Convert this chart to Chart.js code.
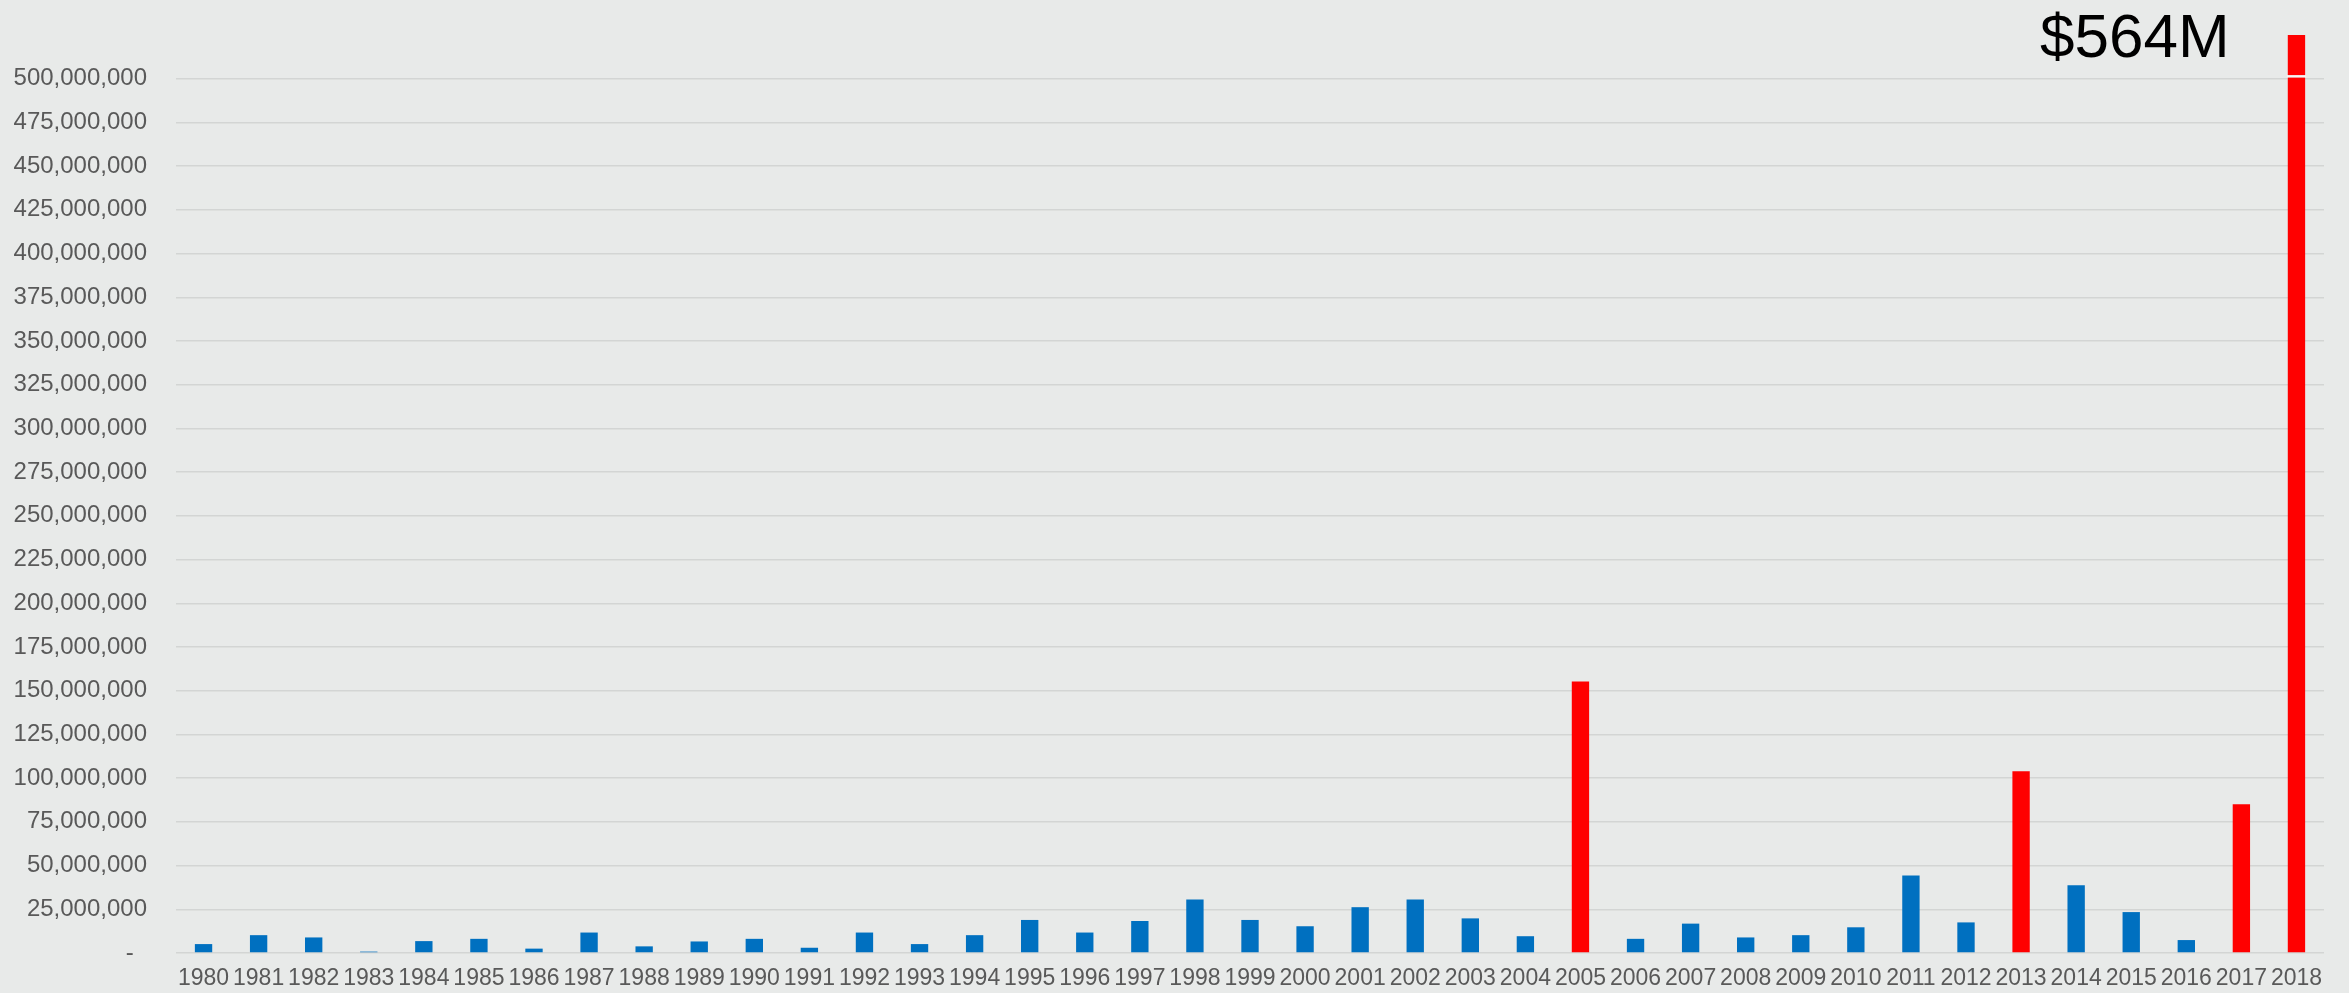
<!DOCTYPE html>
<html>
<head>
<meta charset="utf-8">
<script src="https://cdn.jsdelivr.net/npm/chart.js@4"></script>
<style>
  html, body { margin: 0; padding: 0; }
  body { width: 2349px; height: 993px; background: #e8eae9; position: relative; overflow: hidden; }
  #wrap { position: absolute; left: 0; top: 0; width: 2349px; height: 993px; }
  #callout {
    position: absolute; left: 2040px; top: 5px;
    font-family: "Liberation Sans", Arial, sans-serif; font-size: 62px; line-height: 62px;
    color: #000;
  }
</style>
</head>
<body>
<div id="wrap"><canvas id="chart"></canvas></div>
<div id="callout">$564M</div>
<script>
// Yearly totals (USD), 1980-2018
const years = ['1980','1981','1982','1983','1984','1985','1986','1987','1988','1989',
               '1990','1991','1992','1993','1994','1995','1996','1997','1998','1999',
               '2000','2001','2002','2003','2004','2005','2006','2007','2008','2009',
               '2010','2011','2012','2013','2014','2015','2016','2017','2018'];
const amounts = [5100000, 10200000, 8900000, 800000, 6800000, 8100000, 2500000, 11700000, 3800000, 6600000,
                 8100000, 3000000, 11700000, 5100000, 10200000, 18900000, 11700000, 18300000, 30600000, 18900000,
                 15300000, 26200000, 30600000, 19800000, 9600000, 155300000, 8100000, 16800000, 8900000, 10200000,
                 14700000, 44300000, 17500000, 104000000, 38700000, 23400000, 7400000, 85000000, 564000000];
// Years shown in red
const highlightYears = ['2005', '2013', '2017', '2018'];
const axisMax = 525000000;
const axisStep = 25000000;

const BLUE = '#0070c0';
const RED = '#ff0000';
const FONT = '"Liberation Sans", Arial, sans-serif';

// white gap across the clipped 2018 bar
const breakMark = {
    id: 'breakMark',
    afterDatasetsDraw(chart) {
        const meta = chart.getDatasetMeta(0);
        const bar = meta.data[years.length - 1];
        if (!bar) return;
        const y = chart.scales.y.getPixelForValue(501500000);
        const ctx = chart.ctx;
        ctx.save();
        ctx.fillStyle = '#f4f5f4';
        ctx.fillRect(bar.x - bar.width / 2 - 1, y - 1, bar.width + 2, 2.5);
        ctx.restore();
    }
};

new Chart(document.getElementById('chart'), {
    type: 'bar',
    data: {
        labels: years,
        datasets: [{
            data: amounts,
            backgroundColor: years.map(y => highlightYears.includes(y) ? RED : BLUE),
            barPercentage: 0.315,
            categoryPercentage: 1
        }]
    },
    options: {
        responsive: true,
        maintainAspectRatio: false,
        animation: false,
        layout: { padding: { top: 35, right: 25, left: 0, bottom: 0 } },
        plugins: { legend: { display: false }, tooltip: { enabled: false } },
        scales: {
            x: {
                grid: { display: false, drawTicks: false },
                border: { display: false },
                ticks: {
                    autoSkip: false, maxRotation: 0, padding: 12,
                    color: '#595959', font: { family: FONT, size: 23 }
                },
                afterFit: (s) => { s.height = 40; }
            },
            y: {
                min: 0, max: axisMax,
                border: { display: false },
                grid: {
                    drawTicks: false, lineWidth: 1.5,
                    color: (c) => c.tick && c.tick.value >= axisMax ? 'rgba(0,0,0,0)' : '#d3d5d4'
                },
                ticks: {
                    stepSize: axisStep, padding: 29,
                    color: '#595959', font: { family: FONT, size: 24, lineHeight: 0.2 },
                    callback: (v) => v >= axisMax ? '' : (v === 0 ? '-  ' : v.toLocaleString('en-US'))
                },
                afterFit: (s) => { s.width = 176; }
            }
        }
    },
    plugins: [breakMark]
});
</script>
</body>
</html>
